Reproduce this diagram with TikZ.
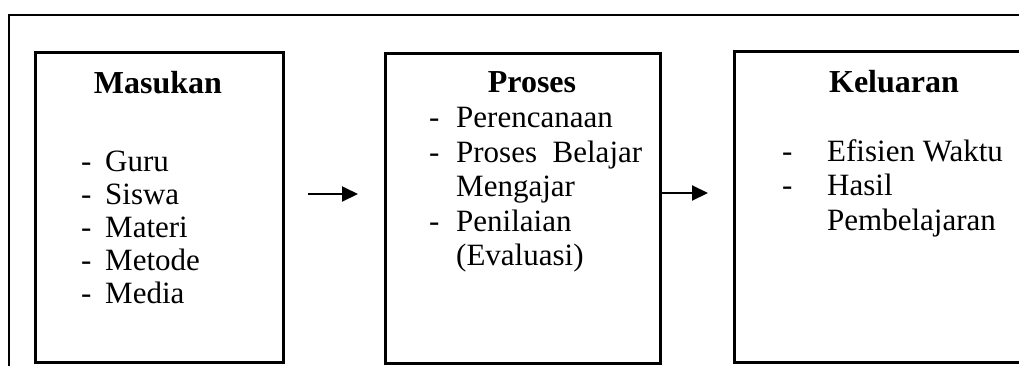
\documentclass[tikz,border=0pt]{standalone}
\usepackage{fontspec}
\setmainfont{Liberation Serif}
\usetikzlibrary{arrows.meta}
\begin{document}
\begin{tikzpicture}[x=1pt,y=-1pt,
  box/.style={draw,line width=3pt,inner sep=0pt,anchor=north west},
  head/.style={font=\fontsize{32}{34}\selectfont\bfseries,anchor=base,inner sep=0pt},
  item/.style={font=\fontsize{31}{34}\selectfont,anchor=base west,inner sep=0pt},
  flow/.style={line width=2pt,-{Triangle[length=16pt,width=15pt]}}]
\useasboundingbox (0,0) rectangle (1019,365);
\clip (0,0) rectangle (1019,365);

% outer frame
\coordinate (fbl) at (9,380);
\coordinate (ftl) at (9,15);
\coordinate (ftr) at (1040,15);
\draw[line width=1.5pt] (fbl) -- (ftl) -- (ftr);

% the three stages
\node[box,minimum width=248pt,minimum height=310pt] (masukan) at (34,51) {};
\node[box,minimum width=275pt,minimum height=310pt] (proses) at (384,52) {};
\node[box,minimum width=320pt,minimum height=311pt] (keluaran) at (733,50) {};

% Masukan
\node[head] (mh) at (158,93) {Masukan};
\node[item] (m1) at (81,171) {\makebox[24pt][l]{-}Guru};
\node[item] (m2) at (81,204) {\makebox[24pt][l]{-}Siswa};
\node[item] (m3) at (81,237) {\makebox[24pt][l]{-}Materi};
\node[item] (m4) at (81,270) {\makebox[24pt][l]{-}Metode};
\node[item] (m5) at (81,303) {\makebox[24pt][l]{-}Media};

% Proses
\node[head] (ph) at (532,92) {Proses};
\node[item] (p1) at (429,127) {\makebox[27pt][l]{-}Perencanaan};
\node[item] (p2) at (429,162) {\makebox[27pt][l]{-}\makebox[186pt][s]{Proses Belajar}};
\node[item] (p3) at (456,196) {Mengajar};
\node[item] (p4) at (429,231) {\makebox[27pt][l]{-}Penilaian};
\node[item] (p5) at (456,265) {(Evaluasi)};

% Keluaran
\node[head] (kh) at (894,92) {Keluaran};
\node[item] (k1) at (782,161) {\makebox[45pt][l]{-}Efisien Waktu};
\node[item] (k2) at (782,195) {\makebox[45pt][l]{-}Hasil};
\node[item] (k3) at (827,230) {Pembelajaran};

% arrows between stages
\coordinate (a1s) at (308,194);
\coordinate (a1e) at (358,194);
\coordinate (a2s) at (659,193);
\coordinate (a2e) at (708,193);
\draw[flow] (a1s) -- (a1e);
\draw[flow] (a2s) -- (a2e);
\end{tikzpicture}
\end{document}
